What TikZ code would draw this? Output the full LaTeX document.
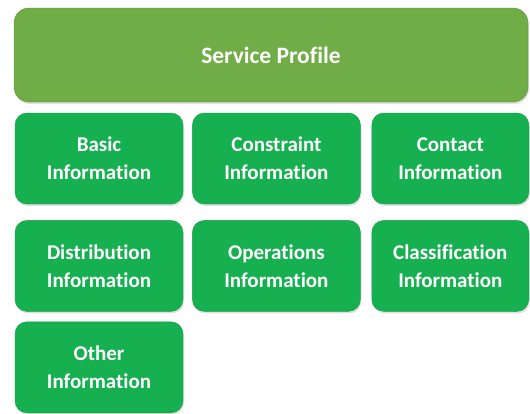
\documentclass[tikz,border=0pt]{standalone}
\usepackage{fontspec}
\setmainfont{Carlito}[Ligatures=NoCommon]
\usetikzlibrary{positioning,shadows}
\definecolor{profilegreen}{HTML}{70AD47}
\definecolor{profileedge}{HTML}{5E9A3A}
\definecolor{infogreen}{HTML}{16B050}
\definecolor{infoedge}{HTML}{12A046}
\tikzset{
    infobox/.style={draw=infoedge, fill=infogreen, rounded corners=12pt, text=white,
        minimum width=168pt, minimum height=91pt, inner sep=0pt, align=center,
        font=\fontsize{21}{28}\selectfont\bfseries,
        drop shadow={shadow xshift=1pt, shadow yshift=-2pt, opacity=0.25}},
}

\begin{document}
\begin{tikzpicture}[x=1pt, y=-1pt, node distance=9pt]
    \useasboundingbox (0,0) rectangle (530,413);
    % Nodes
    \node (profile) at (271,55) [draw=profileedge, fill=profilegreen, rounded corners=15pt,
        text=white, minimum width=514pt, minimum height=94pt, inner sep=0pt,
        font=\fontsize{23.5}{28}\selectfont\bfseries,
        drop shadow={shadow xshift=1pt, shadow yshift=-2pt, opacity=0.25}] {Service Profile};
    \node (basic) at (99,158.5) [infobox] {Basic\\Information};
    \node (constraint) [infobox, right=of basic] {Constraint\\Information};
    \node (contact) [infobox, right=11pt of constraint, minimum width=157pt] {Contact\\Information};
    \node (distribution) [infobox, below=16pt of basic] {Distribution\\Information};
    \node (operations) [infobox, right=of distribution] {Operations\\Information};
    \node (classification) [infobox, right=11pt of operations, minimum width=157pt] {Classification\\Information};
    \node (other) [infobox, below=10pt of distribution] {Other\\Information};
\end{tikzpicture}
\end{document}
